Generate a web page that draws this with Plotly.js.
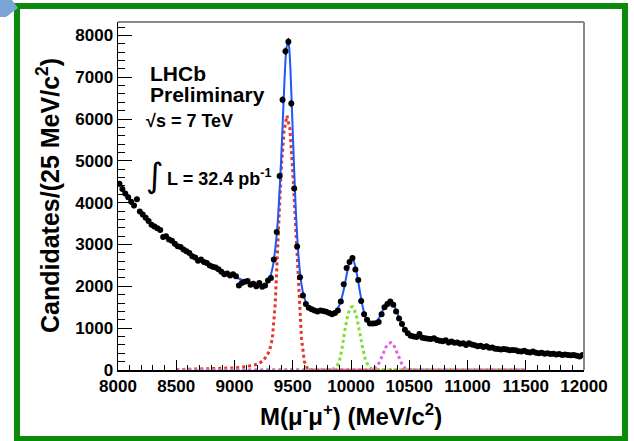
<!DOCTYPE html>
<html>
<head>
<meta charset="utf-8">
<script src="https://cdn.plot.ly/plotly-3.0.1.min.js"></script>
<style>html,body{margin:0;padding:0;background:#fff;} #chart{width:634px;height:441px;}</style>
</head>
<body>
<div id="chart"></div>
<script>
// Histogram: 25 MeV bins from 8000 to 12000 MeV/c^2
const binLow = 8000;
const binWidth = 25;
const candidates = [
  4450, 4330, 4220, 4130, 4020, 3930, 4080, 3790, 3720, 3640,
  3560, 3470, 3430, 3390, 3350, 3180, 3200, 3120, 3090, 3020,
  2960, 2940, 2880, 2840, 2800, 2720, 2690, 2610, 2640, 2580,
  2560, 2500, 2470, 2450, 2410, 2350, 2290, 2310, 2260, 2290,
  2240, 2020, 2080, 2110, 2130, 2040, 2060, 2000, 2080, 1990,
  2020, 2140, 2200, 2640, 3300, 4640, 6460, 7620, 7850, 6370,
  4340, 2950, 2220, 1780, 1580, 1490, 1450, 1420, 1400, 1420,
  1410, 1390, 1360, 1330, 1360, 1420, 1640, 2050, 2440, 2580,
  2680, 2400, 2150, 1650, 1330, 1200, 1110, 1110, 1120, 1150,
  1330, 1500, 1580, 1640, 1560, 1400, 1230, 1100, 960, 880,
  820, 800, 790, 860, 770, 760, 750, 740, 760, 720,
  700, 690, 710, 660, 680, 650, 660, 630, 640, 600,
  640, 610, 590, 570, 580, 550, 570, 530, 540, 510,
  500, 490, 500, 490, 470, 480, 470, 450, 440, 460,
  430, 420, 440, 410, 400, 410, 390, 400, 380, 390,
  370, 380, 360, 370, 360, 350, 360, 340, 320, 360
];
const massCenters = candidates.map((_, i) => binLow + binWidth * (i + 0.5));

// Total fit (blue)
const fitX = [8500, 8600, 8700, 8800, 8900, 9000, 9100, 9200, 9250, 9275, 9300, 9325, 9350, 9375, 9400, 9425, 9440, 9455, 9465, 9480, 9500, 9525, 9550, 9575, 9600, 9625, 9650, 9700, 9750, 9800, 9850, 9880, 9910, 9940, 9970, 9995, 10010, 10025, 10050, 10075, 10100, 10125, 10150, 10175, 10200, 10225, 10250, 10275, 10300, 10325, 10340, 10360, 10380, 10400, 10425, 10450, 10475, 10500, 10550, 10600, 10700, 10800, 10900, 11000, 11100, 11200, 11300, 11400, 11500];
const fitY = [2990, 2810, 2640, 2490, 2350, 2230, 2120, 2040, 2020, 2060, 2180, 2420, 2900, 3700, 5000, 6650, 7500, 7800, 7780, 7200, 5700, 3900, 2700, 2050, 1720, 1560, 1480, 1420, 1400, 1380, 1390, 1450, 1620, 1950, 2380, 2640, 2680, 2600, 2300, 1900, 1520, 1260, 1140, 1110, 1120, 1180, 1290, 1440, 1560, 1620, 1630, 1580, 1480, 1340, 1170, 1020, 920, 860, 800, 770, 730, 690, 650, 610, 575, 540, 505, 475, 445];

// Upsilon(1S) component (red dotted)
const ups1X = [8500, 8700, 8900, 9000, 9100, 9200, 9250, 9300, 9325, 9350, 9375, 9400, 9425, 9450, 9475, 9500, 9525, 9550, 9575, 9600, 9625, 9650, 9700, 11500];
const ups1Y = [10, 20, 35, 50, 80, 140, 230, 450, 750, 1600, 3200, 4750, 5700, 6080, 5780, 4750, 3450, 1900, 750, 200, 40, 5, 0, 0];

// Upsilon(2S) component (green dotted)
const ups2X = [8500, 9800, 9850, 9875, 9900, 9925, 9950, 9975, 10000, 10015, 10030, 10050, 10075, 10100, 10125, 10150, 10175, 10200, 10250, 11500];
const ups2Y = [0, 5, 30, 70, 200, 550, 1000, 1350, 1500, 1510, 1430, 1250, 900, 520, 240, 90, 25, 5, 0, 0];

// Upsilon(3S) component (magenta dotted)
const ups3X = [8500, 10150, 10200, 10225, 10250, 10275, 10300, 10325, 10345, 10365, 10390, 10415, 10440, 10465, 10500, 10550, 11500];
const ups3Y = [0, 0, 30, 90, 220, 400, 550, 640, 655, 610, 460, 270, 120, 40, 10, 0, 0];

const yTickVals = [0, 1000, 2000, 3000, 4000, 5000, 6000, 7000, 8000];
const xTickVals = [8000, 8500, 9000, 9500, 10000, 10500, 11000, 11500, 12000];

const L = 118, R = 584, T = 22, B = 370;
const px = v => (v - L) / (R - L);
const py = v => (B - v) / (B - T);

const traces = [
  {x: ups1X, y: ups1Y, mode: 'lines', line: {color: '#e8352a', width: 3, dash: 'dot'}, hoverinfo: 'skip'},
  {x: ups2X, y: ups2Y, mode: 'lines', line: {color: '#7fdf30', width: 3, dash: 'dot'}, hoverinfo: 'skip'},
  {x: ups3X, y: ups3Y, mode: 'lines', line: {color: '#e060e8', width: 3, dash: 'dot'}, hoverinfo: 'skip'},
  {x: fitX, y: fitY, mode: 'lines', line: {color: '#1f55ff', width: 2, shape: 'spline', smoothing: 0.6}, hoverinfo: 'skip'},
  {x: massCenters, y: candidates, mode: 'markers',
   marker: {color: '#000', size: 6},
   error_y: {type: 'sqrt', color: '#000', thickness: 1.5, width: 0},
   error_x: {type: 'constant', value: binWidth / 2, color: '#000', thickness: 1.5, width: 0}}
];

const tickFont = {family: 'Liberation Sans, Arial, sans-serif', size: 17, color: '#000', weight: 700};

const layout = {
  width: 634, height: 441,
  margin: {l: L, r: 634 - R, t: T, b: 441 - B},
  paper_bgcolor: '#fff', plot_bgcolor: '#fff',
  showlegend: false,
  xaxis: {
    range: [8000, 12000], tickvals: xTickVals, ticktext: xTickVals.map(String),
    ticks: 'inside', ticklen: 10, tickwidth: 1, tickcolor: '#000',
    minor: {dtick: 100, ticks: 'inside', ticklen: 5, tickwidth: 1, tickcolor: '#000', showgrid: false},
    showgrid: false, zeroline: false, showline: true, linecolor: '#000', linewidth: 1.5,
    tickfont: tickFont, fixedrange: true
  },
  yaxis: {
    range: [0, 8320], tickvals: yTickVals, ticktext: yTickVals.map(String),
    ticks: 'inside', ticklen: 14, tickwidth: 1, tickcolor: '#000',
    minor: {dtick: 200, ticks: 'inside', ticklen: 7, tickwidth: 1, tickcolor: '#000', showgrid: false},
    showgrid: false, zeroline: false, showline: true, linecolor: '#000', linewidth: 1.5,
    tickfont: tickFont, fixedrange: true
  },
  shapes: [
    {type: 'line', xref: 'paper', yref: 'paper', x0: 0, x1: 1, y0: 1, y1: 1, line: {color: '#888', width: 2}},
    {type: 'line', xref: 'paper', yref: 'paper', x0: 1, x1: 1, y0: 0, y1: 1, line: {color: '#888', width: 2}},
    {type: 'rect', xref: 'paper', yref: 'paper', x0: px(17), x1: px(625), y0: py(439), y1: py(6), line: {color: '#0c8a0c', width: 6}},
    {type: 'path', xref: 'paper', yref: 'paper',
     path: `M ${px(0)} ${py(0)} L ${px(12)} ${py(0)} L ${px(18)} ${py(8)} L ${px(6)} ${py(17)} L ${px(0)} ${py(17)} Z`,
     fillcolor: '#79a6d6', line: {width: 0}}
  ],
  annotations: [
    {text: '<b>LHCb</b>', xref: 'paper', yref: 'paper', x: px(148), y: py(73.5), xanchor: 'left', yanchor: 'middle', showarrow: false,
     font: {family: 'Liberation Sans, Arial, sans-serif', size: 21, color: '#000'}},
    {text: '<b>Preliminary</b>', xref: 'paper', yref: 'paper', x: px(148), y: py(94.5), xanchor: 'left', yanchor: 'middle', showarrow: false,
     font: {family: 'Liberation Sans, Arial, sans-serif', size: 21, color: '#000'}},
    {text: '<b>√s = 7 TeV</b>', xref: 'paper', yref: 'paper', x: px(144), y: py(121), xanchor: 'left', yanchor: 'middle', showarrow: false,
     font: {family: 'Liberation Sans, Arial, sans-serif', size: 18, color: '#000'}},
    {text: '∫', xref: 'paper', yref: 'paper', x: px(155), y: py(175), xanchor: 'center', yanchor: 'middle', showarrow: false,
     font: {family: 'DejaVu Sans, sans-serif', size: 34, color: '#000'}},
    {text: '<b>L = 32.4 pb<sup>-1</sup></b>', xref: 'paper', yref: 'paper', x: px(165), y: py(177), xanchor: 'left', yanchor: 'middle', showarrow: false,
     font: {family: 'Liberation Sans, Arial, sans-serif', size: 18, color: '#000'}},
    {text: '<b>Candidates/(25 MeV/c<sup>2</sup>)</b>', xref: 'paper', yref: 'paper', x: px(48), y: 0.5, xanchor: 'center', yanchor: 'middle', textangle: -90, showarrow: false,
     font: {family: 'Liberation Sans, Arial, sans-serif', size: 25, color: '#000'}},
    {text: '<b>M(μ<sup>-</sup>μ<sup>+</sup>) (MeV/c<sup>2</sup>)</b>', xref: 'paper', yref: 'paper', x: 0.5, y: py(415), xanchor: 'center', yanchor: 'middle', showarrow: false,
     font: {family: 'Liberation Sans, Arial, sans-serif', size: 24, color: '#000'}}
  ]
};

Plotly.newPlot('chart', traces, layout, {displayModeBar: false, staticPlot: true});
</script>
</body>
</html>
